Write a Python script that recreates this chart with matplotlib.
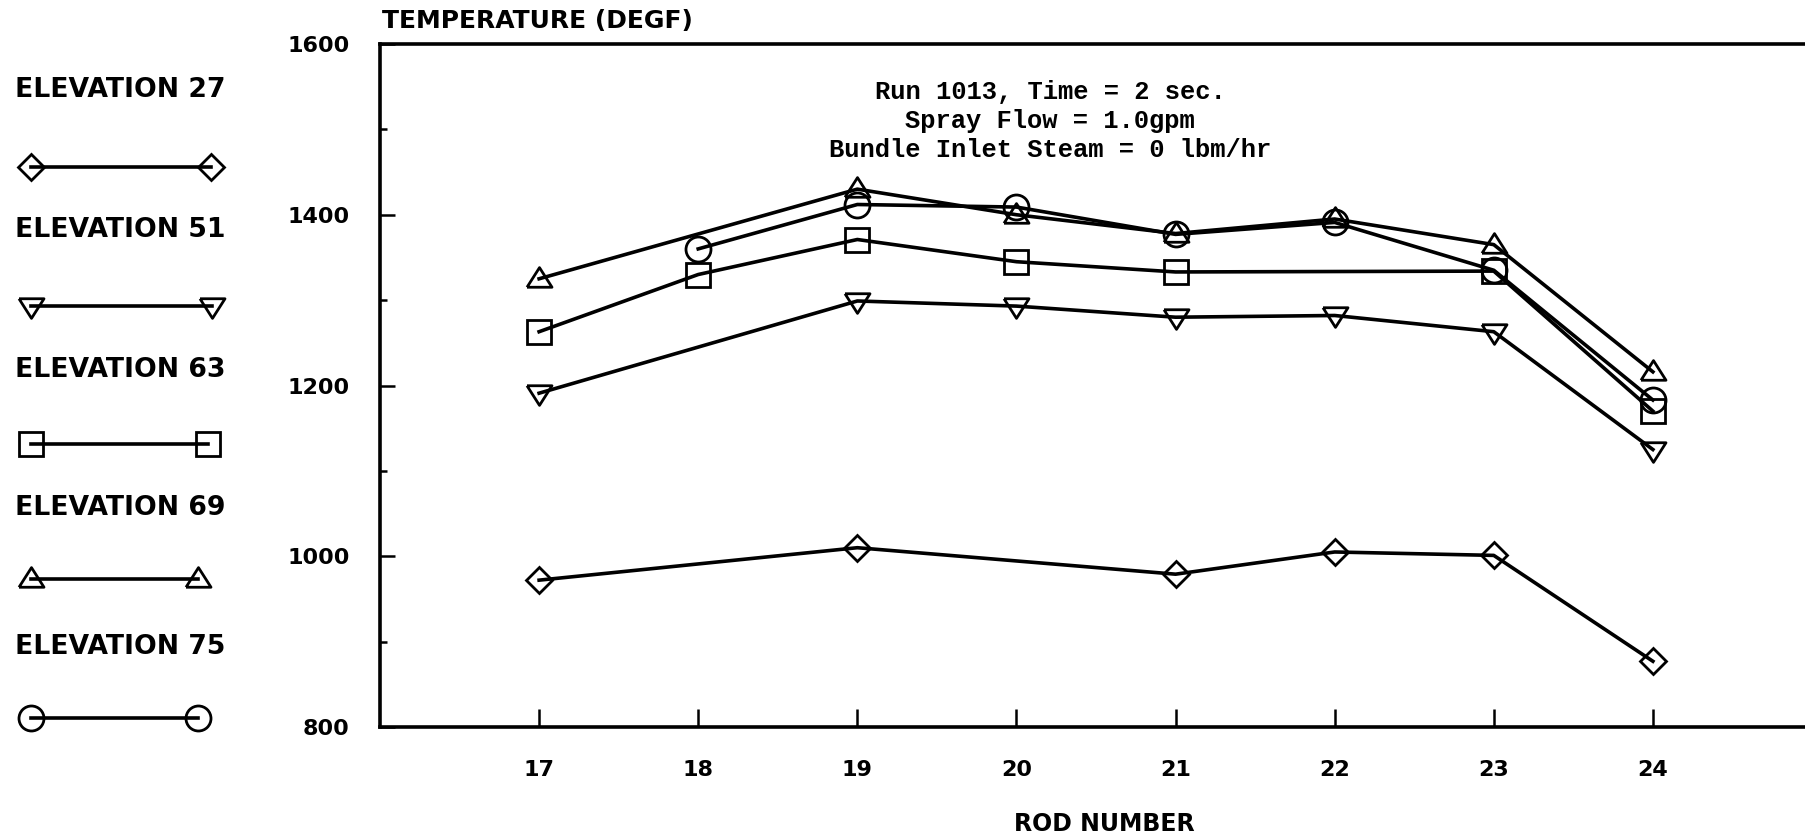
import matplotlib
matplotlib.use("Agg")
import matplotlib.pyplot as plt
from matplotlib.lines import Line2D
from matplotlib.ticker import MultipleLocator

# rod temperatures (deg F), one list per elevation
rods_27 = [17, 19, 21, 22, 23, 24]
temp_27 = [972, 1010, 979, 1005, 1001, 877]

rods_51 = [17, 19, 20, 21, 22, 23, 24]
temp_51 = [1191, 1299, 1293, 1280, 1282, 1263, 1125]

rods_63 = [17, 18, 19, 20, 21, 23, 24]
temp_63 = [1263, 1330, 1371, 1345, 1333, 1334, 1170]

rods_69 = [17, 19, 20, 21, 22, 23, 24]
temp_69 = [1325, 1430, 1400, 1378, 1395, 1365, 1216]

rods_75 = [18, 19, 20, 21, 22, 23, 24]
temp_75 = [1360, 1412, 1409, 1377, 1391, 1335, 1183]

elev_labels = ["ELEVATION 27", "ELEVATION 51", "ELEVATION 63", "ELEVATION 69", "ELEVATION 75"]
x_ticks = [17, 18, 19, 20, 21, 22, 23, 24]
y_ticks = [800, 1000, 1200, 1400, 1600]
y_ticklabels = ["800", "1000", "1200", "1400", "1600"]
note = "Run 1013, Time = 2 sec.\nSpray Flow = 1.0gpm\nBundle Inlet Steam = 0 lbm/hr"

W, H = 1805, 839
fig = plt.figure(figsize=(W / 100, H / 100), dpi=100)
ax = fig.add_axes([380 / W, 1 - 727 / H, 1432 / W, 683 / H])

# triangles a bit wider than tall, like the plotter symbols
up_tri = [(-1.0, -0.62), (1.0, -0.62), (0.0, 0.95), (-1.0, -0.62)]
down_tri = [(-1.0, 0.62), (1.0, 0.62), (0.0, -0.95), (-1.0, 0.62)]

series = [
    (rods_27, temp_27, "D", 13),
    (rods_51, temp_51, down_tri, 18),
    (rods_63, temp_63, "s", 17),
    (rods_69, temp_69, up_tri, 18),
    (rods_75, temp_75, "o", 18),
]
for xs, ys, mk, ms in series:
    ax.plot(xs, ys, color="black", lw=2.6, marker=mk, ms=ms,
            mfc="none", mec="black", mew=2.0)

ax.set_xlim(16, 25)
ax.set_ylim(800, 1600)
ax.set_xticks(x_ticks)
ax.set_xticklabels([str(t) for t in x_ticks])
ax.set_yticks(y_ticks)
ax.set_yticklabels(y_ticklabels)
ax.yaxis.set_minor_locator(MultipleLocator(100))

tfont = dict(family="DejaVu Sans", weight="bold")
ax.tick_params(axis="x", direction="in", length=13, width=1.8, pad=24,
               labelsize=16)
ax.tick_params(axis="y", which="major", direction="in", length=11, width=1.8,
               pad=22, labelsize=16)
ax.tick_params(axis="y", which="minor", direction="in", length=5, width=1.8)
for lab in ax.get_xticklabels() + ax.get_yticklabels():
    lab.set_fontweight("bold")
    lab.set_family("DejaVu Sans")

for side in ["left", "bottom", "top"]:
    ax.spines[side].set_linewidth(2.6)
ax.spines["right"].set_visible(False)

ax.set_xlabel("ROD NUMBER", fontsize=17, **tfont)
ax.xaxis.set_label_coords(0.5056, -0.124)

fig.text(382 / W, 1 - 21 / H, "TEMPERATURE (DEGF)", fontsize=18,
         ha="left", va="center", **tfont)

ax.text(0.468, 0.887, note, transform=ax.transAxes, ha="center", va="center",
        multialignment="center", family="Liberation Mono", fontweight="bold",
        fontsize=18.4, linespacing=1.25)

# left-hand key: label above a short line with a symbol on each end
key_text_y = [90, 230, 370, 508, 647]
key_line_y = [167, 306, 444, 579, 718]
key_right_x = [211, 212, 208, 198, 198]
for i, (xs, ys, mk, ms) in enumerate(series):
    fig.text(15 / W, 1 - key_text_y[i] / H, elev_labels[i], fontsize=19.2,
             ha="left", va="center", **tfont)
    fig.add_artist(Line2D([31 / W, key_right_x[i] / W],
                          [1 - key_line_y[i] / H] * 2,
                          transform=fig.transFigure, color="black", lw=2.6,
                          marker=mk, ms=ms, mfc="none", mec="black", mew=2.0))

fig.savefig("out.png", dpi=100)
